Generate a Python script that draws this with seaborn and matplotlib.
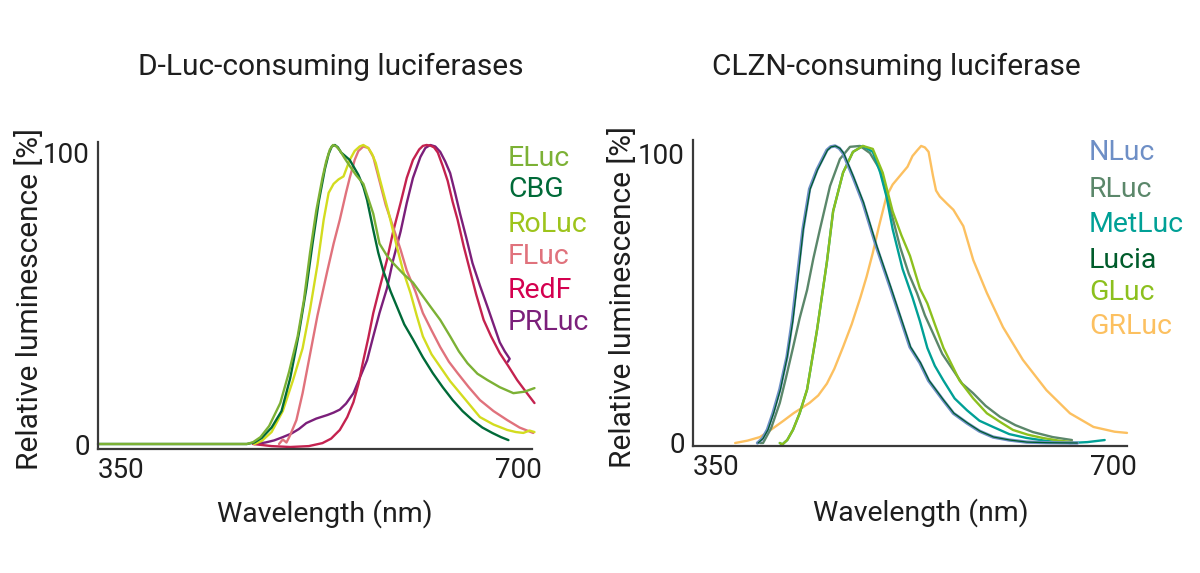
import matplotlib
matplotlib.use("Agg")
import matplotlib.pyplot as plt
from matplotlib.transforms import ScaledTranslation
import pandas as pd
import seaborn as sns

# --- D-Luc-consuming luciferases: wavelength (nm) / relative luminescence (%) ---
eluc_nm = [350, 470, 475, 481, 488, 497, 504, 511, 516, 521, 526, 531, 534, 537, 539.5, 542, 545, 549,
           553, 558, 564, 568, 572, 577, 583, 588, 596, 604, 611, 618, 626, 634, 641, 648, 656, 664,
           674, 685, 694, 702]
eluc_rl = [0, 0, 0.6, 2.3, 6, 13.7, 24, 36, 48, 64, 78, 89, 94.5, 98.5, 100, 99.6, 98.2, 95.5,
           93, 90, 87, 82, 77, 67, 63, 60.5, 57, 54, 50, 46, 41.5, 36, 31, 27, 23.5, 21.4,
           19, 17, 17.5, 18.7]

cbg_nm = [350, 470, 476, 482, 490, 498, 505, 512, 518, 523, 528, 533, 536, 538.5, 541, 543.5, 546,
          553, 560, 564, 567, 572, 576, 580, 586, 591, 597, 604, 612, 620, 628, 636, 644, 652, 660,
          668, 675, 681]
cbg_rl = [0, 0, 0.5, 2, 5.5, 11, 22, 37, 52, 67, 81, 92, 97, 99.5, 100, 99.2, 97.5,
          95, 90, 86, 81.6, 71.6, 64, 58, 51, 46, 40, 35, 29, 23.7, 19, 14.7, 11, 8, 5.5,
          3.7, 2.3, 1.3]

roluc_nm = [476, 482, 490, 499, 507, 515, 521, 527, 532, 536, 540, 544, 548, 553, 557, 561, 564, 568,
            571, 574, 577, 584, 591, 596, 602, 607, 612, 619, 626, 634, 642, 650, 658, 669, 680, 687,
            693, 698, 702]
roluc_rl = [0, 1, 4, 11, 21, 32, 45, 60, 75, 84, 87, 88.5, 89.5, 95, 98, 99.5, 100, 99,
            97, 94, 89, 78, 66, 58, 50.5, 43, 36, 30, 25.8, 21, 17, 13, 9, 6.5, 4.7, 4,
            3.7, 4.5, 4]

fluc_nm = [496, 499, 502, 505, 510, 515, 521, 527, 535, 540, 545, 550, 553, 557, 560, 564, 568, 572,
           577, 582, 588, 594, 599, 606, 612, 619, 626, 633, 640, 649, 658, 669, 680, 690, 701]
fluc_rl = [0, 1.5, 0.5, 3, 8, 17, 30, 43, 58, 67, 75, 84, 89, 95, 98, 99.5, 99, 96,
           88, 80, 72.6, 65, 58, 51, 43.8, 38, 32.4, 27.5, 23.7, 19, 14.7, 11, 8, 5.5, 3.7]

redf_nm = [475, 490, 505, 520, 531, 538, 545, 551, 556, 560, 564, 568, 572, 577, 583, 588, 594, 599,
           604, 609, 612, 615, 618, 621, 624, 628, 632, 636, 640, 645, 650, 655, 661, 667, 674, 681,
           688, 695, 702]
redf_rl = [0, -0.7, -1, -0.7, 0.3, 1.8, 4.7, 9, 14, 20, 28, 35.5, 43.8, 52, 61.5, 71, 80.6, 89,
           95, 98.5, 99.7, 100, 99.8, 99.2, 97.5, 93, 88, 81, 75, 66, 58, 50, 41.5, 36, 30.4, 26,
           21.4, 17.5, 13.7]

prluc_nm = [476, 485, 492, 499, 506, 512, 518, 526, 535, 540, 545, 550, 556, 561, 567, 572, 577, 583,
            588, 594, 599, 604, 610, 614, 618, 622, 626, 630, 634, 638, 642, 647, 652, 658, 664, 669,
            674, 678, 682, 680.5]
prluc_rl = [0, 0.5, 1.2, 2.3, 3.5, 5, 7, 8.5, 9.7, 10.5, 11.5, 13.5, 17, 22, 28, 36, 43.8, 52,
            61.5, 71, 80.6, 89, 96, 99, 100, 99.5, 97.7, 94.5, 90.6, 84, 77, 69, 60.5, 53, 46, 40,
            34, 31, 28.5, 27.5]

# --- CLZN-consuming luciferases ---
nluc_nm = [402, 406, 410, 414.5, 420, 425.8, 430, 433.9, 438.7, 444, 450, 458, 461, 464.5, 468, 471,
           479, 487, 498, 509, 517, 525, 533, 540, 551.6, 560, 571, 581, 592, 605, 619, 635, 660]
nluc_rl = [0, 1.5, 4.5, 10, 18, 29, 41, 55, 72, 85.5, 92, 98.6, 99.7, 100, 99.2, 97.6,
           89.6, 81, 66, 52.5, 42.4, 32.3, 27, 21, 14.5, 10, 6.7, 4, 2, 1, 0.3, 0.1, 0]

rluc_nm = [404, 406.5, 413, 420, 425, 430.6, 436, 442, 447, 452.4, 460.5, 468.5, 476.6, 484.7, 492.7,
           500.8, 509, 517, 524, 530.6, 537, 543.5, 551, 559.7, 567, 575.8, 586, 597.6, 610, 624, 640,
           655.6]
rluc_rl = [0, 0, 5, 13.5, 22, 32, 42, 51.5, 62, 72, 86.5, 95.6, 99.7, 100, 97.6,
           92, 79, 66, 57, 50.5, 43, 37, 30, 24.6, 20, 16.8, 12.5, 8.8, 6, 3.7, 2,
           1]

metluc_nm = [420, 422, 426, 430.6, 436, 442, 450, 458, 463, 471, 479, 487, 495, 501, 506, 511, 519,
             527, 533, 539, 545, 552, 561, 571, 581, 592, 605, 619, 635, 654, 668, 682]
metluc_rl = [0, -0.5, 1, 4.4, 10, 18, 38, 61, 78, 91, 98, 100, 98, 91, 83, 72, 58.6,
             49, 41, 32, 26, 21, 15, 11, 7.5, 5.4, 3, 1.7, 0.7, 0, 0.3, 1]

lucia_nm = [402.5, 406.5, 410.5, 415, 420.5, 426, 430.5, 434.5, 439, 444.5, 450.5, 458.5, 461.5, 465,
            468.5, 471.5, 479.5, 487.5, 498.5, 509.5, 517.5, 525.5, 533.5, 540.5, 552, 560.5, 571.5,
            581.5, 592.5, 605.5, 619.5, 635.5, 660]
lucia_rl = [0, 1.5, 4.5, 10, 18, 29, 41, 55, 72, 85.5, 92, 98.6, 99.7, 100,
            99.2, 97.6, 89.6, 81, 66, 52.5, 42.4, 32.3, 27, 21, 14.5, 10, 6.7,
            4, 2, 1, 0.3, 0.1, 0]

gluc_nm = [420, 422, 426, 430.6, 436, 442, 450, 458, 463, 471, 479, 487, 495, 503, 511, 518, 525,
           533, 539, 545, 552, 565, 576, 587, 598, 608, 620, 632, 645, 656]
gluc_rl = [0, -0.5, 1, 4.4, 10, 18, 38, 61, 78, 91, 98, 100, 99, 91, 78, 70, 63,
           52, 47, 40, 32, 21, 15, 10, 7, 4.4, 2.8, 1.7, 0.8, 0.3]

grluc_nm = [384, 394, 404, 413, 423, 431, 444, 451, 458, 464, 471, 478, 485, 490, 495, 500, 506, 511,
            517, 523, 527, 531, 534, 537, 540, 543.5, 546, 549, 555, 560, 568, 576, 587, 600, 616, 635,
            654, 673, 690, 700]
grluc_rl = [0, 0.8, 2, 4.5, 7.5, 10, 13.5, 16, 20, 25, 32.3, 40, 49, 56, 64, 73, 83, 87,
            90, 93, 96.6, 98.6, 100, 99.5, 98, 90, 85, 83, 80.5, 78.5, 73, 61.6, 50.5, 39, 28, 17.8,
            10, 5.4, 3.8, 3.4]

dluc_names = ["ELuc", "CBG", "RoLuc", "FLuc", "RedF", "PRLuc"]
dluc_data = [(eluc_nm, eluc_rl), (cbg_nm, cbg_rl), (roluc_nm, roluc_rl),
             (fluc_nm, fluc_rl), (redf_nm, redf_rl), (prluc_nm, prluc_rl)]
dluc_line_colors = ["#7cb135", "#006a38", "#d3dc1f", "#e0727c", "#c4224f", "#7b1f7a"]
dluc_text_colors = ["#7cb135", "#006a38", "#9dc41c", "#e0727c", "#d4004f", "#7b1f7a"]

clzn_names = ["NLuc", "RLuc", "MetLuc", "Lucia", "GLuc", "GRLuc"]
clzn_data = [(nluc_nm, nluc_rl), (rluc_nm, rluc_rl), (metluc_nm, metluc_rl),
             (lucia_nm, lucia_rl), (gluc_nm, gluc_rl), (grluc_nm, grluc_rl)]
clzn_colors = ["#6e8fc6", "#5b876a", "#00a096", "#005c2b", "#8cc01e", "#fcc060"]

W, H = 1200, 573
TEXT = "#1e1e1e"
SPINE = "#3a3a3a"

sns.set_style("white")
plt.rcParams["font.family"] = ["Roboto", "DejaVu Sans"]

fig = plt.figure(figsize=(W / 100, H / 100), dpi=100)


def px_rect(x0, y_top, x1, y_bot):
    return [x0 / W, (H - y_bot) / H, (x1 - x0) / W, (y_bot - y_top) / H]


def draw_panel(ax, data, colors, order, widths, ylim):
    for i in order:
        nm, rl = data[i]
        df = pd.DataFrame({"nm": nm, "rl": rl})
        sns.lineplot(data=df, x="nm", y="rl", ax=ax, color=colors[i], lw=widths[i],
                     sort=False, estimator=None, clip_on=False)
    ax.set_xlim(350, 700)
    ax.set_ylim(*ylim)
    sns.despine(ax=ax)
    for s in ["left", "bottom"]:
        ax.spines[s].set_color(SPINE)
        ax.spines[s].set_linewidth(1.6)
    ax.set_xticks([350, 700], ["350", "700"])
    ax.set_yticks([0, 100], ["0", "100"])
    ax.tick_params(length=0, labelsize=20, labelcolor=TEXT, pad=6)
    xl = ax.get_xticklabels()
    xl[0].set_ha("left")
    xl[1].set_ha("right")
    xl[1].set_transform(xl[1].get_transform() + ScaledTranslation(0.1, 0, fig.dpi_scale_trans))
    yl = ax.get_yticklabels()
    yl[1].set_transform(yl[1].get_transform() + ScaledTranslation(0, -0.08, fig.dpi_scale_trans))
    ax.set_xlabel("Wavelength (nm)", fontsize=20.5, color=TEXT)
    ax.set_ylabel("Relative luminescence [%]", fontsize=21.5, color=TEXT)


ax1 = fig.add_axes(px_rect(98, 142, 532, 449))
draw_panel(ax1, dluc_data, dluc_line_colors, [5, 4, 3, 2, 1, 0],
           [1.7] * 6, (-1.67, 101.0))
ax1.xaxis.set_label_coords(0.523, -0.165)
ax1.yaxis.set_label_coords(-0.125, 0.49)

ax2 = fig.add_axes(px_rect(693, 140, 1127, 446))
draw_panel(ax2, clzn_data, clzn_colors, [5, 1, 2, 4, 0, 3],
           [2.4, 1.7, 1.7, 0.9, 1.7, 1.7], (-1.01, 102.0))
ax2.xaxis.set_label_coords(0.525, -0.17)
ax2.yaxis.set_label_coords(-0.13, 0.488)

# titles
fig.text(331 / W, 1 - 67 / H, "D-Luc-consuming luciferases", ha="center", va="center",
         fontsize=21.5, color=TEXT)
fig.text(896 / W, 1 - 67 / H, "CLZN-consuming luciferase", ha="center", va="center",
         fontsize=21.5, color=TEXT)

# series labels on the right of each panel
dluc_label_y = [158, 190, 225, 257, 290, 323]
for name, c, yy in zip(dluc_names, dluc_text_colors, dluc_label_y):
    fig.text(508 / W, 1 - yy / H, name, ha="left", va="center", fontsize=20.5, color=c)

clzn_label_y = [153, 190, 225, 260, 293, 327]
for name, c, yy in zip(clzn_names, clzn_colors, clzn_label_y):
    fig.text(1089 / W, 1 - yy / H, name, ha="left", va="center", fontsize=20.5, color=c)

fig.savefig("out.png", dpi=100)
